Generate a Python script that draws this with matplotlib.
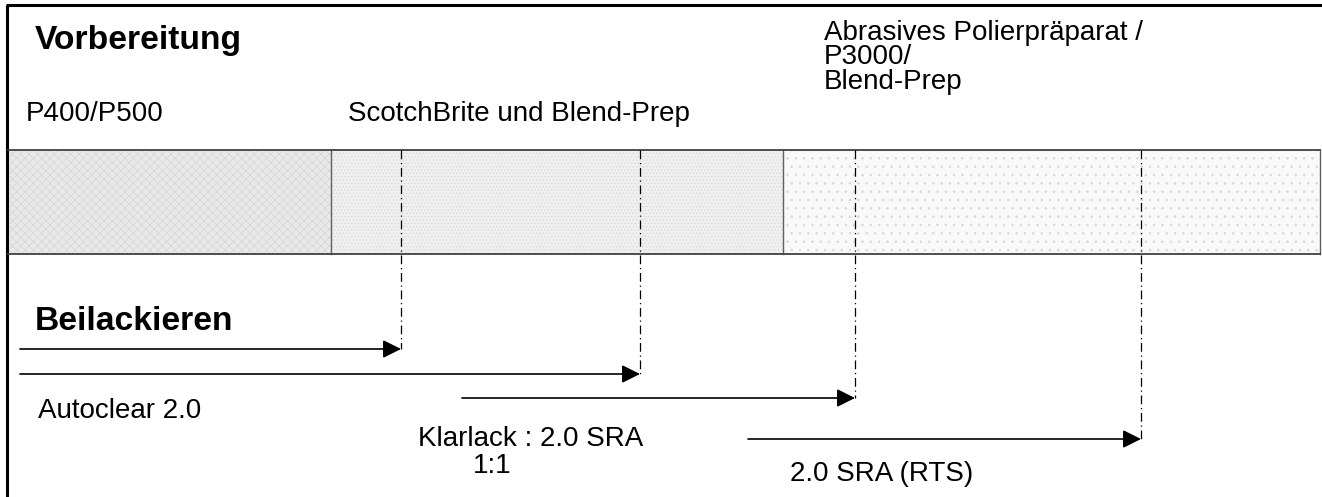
import matplotlib
matplotlib.use("Agg")
import matplotlib.pyplot as plt
from matplotlib.patches import Rectangle

plt.rcParams['font.family'] = ['Liberation Sans', 'DejaVu Sans']

# Data (pixel-space layout of the process diagram)
segment_edges = [8, 331, 783, 1320]
segment_labels = ["P400/P500", "ScotchBrite und Blend-Prep",
                  "Abrasives Polierpräparat /\nP3000/\nBlend-Prep"]
segment_faces = ['#e9e9e9', '#f0f0f0', '#f9f9f9']
segment_hatches = ['xxxx', '.....', '..']
arrow_starts = [20, 20, 462, 748]
arrow_ends = [401, 640, 855, 1141]
arrow_y = [349, 374, 398, 439]
arrow_labels = ["Autoclear 2.0", "Klarlack : 2.0 SRA\n1:1", "2.0 SRA (RTS)"]

W, H = 1322, 497
fig = plt.figure(figsize=(W / 100, H / 100), dpi=100)
ax = fig.add_axes([0, 0, 1, 1])
ax.set_xlim(0, W)
ax.set_ylim(H, 0)
ax.axis('off')

bar_top, bar_bot = 150, 254
FS = 20
FSB = 24.2

# Frame: left and top border
ax.plot([7, 7], [5, H], color='black', lw=2.2, solid_capstyle='butt')
ax.plot([6, W], [5, 5], color='black', lw=2.2, solid_capstyle='butt')

# Segments
plt.rcParams['hatch.linewidth'] = 0.6
for i in range(3):
    x0, x1 = segment_edges[i], segment_edges[i + 1]
    ax.add_patch(Rectangle((x0, bar_top), x1 - x0, bar_bot - bar_top,
                           facecolor=segment_faces[i], edgecolor='#d8d8d8',
                           hatch=segment_hatches[i], lw=0, zorder=1))
for x in segment_edges[1:]:
    ax.plot([x, x], [bar_top, bar_bot], color='#606060', lw=1.0, zorder=3)
ax.plot([segment_edges[0], segment_edges[-1]], [bar_top, bar_top], color='#404040', lw=1.3, zorder=3)
ax.plot([segment_edges[0], segment_edges[-1]], [bar_bot, bar_bot], color='#404040', lw=1.3, zorder=3)

# Headers
ax.text(35, 41, "Vorbereitung", fontsize=FSB, fontweight='bold', va='center', ha='left')
ax.text(35, 321, "Beilackieren", fontsize=FSB, fontweight='bold', va='center', ha='left')

# Segment labels
ax.text(26, 114, segment_labels[0], fontsize=FS, va='center', ha='left')
ax.text(348, 114, segment_labels[1], fontsize=FS, va='center', ha='left')
for k, line in enumerate(segment_labels[2].split('\n')):
    ax.text(824, 33 + 24.5 * k, line, fontsize=FS, va='center', ha='left')

# Dash-dot guides and arrows
for xs, xe, y in zip(arrow_starts, arrow_ends, arrow_y):
    ax.plot([xe, xe], [bar_top, y], color='black', lw=0.9,
            linestyle=(0, (7, 3, 1, 3)), zorder=4)
    ax.annotate('', xy=(xe, y), xytext=(xs, y),
                arrowprops=dict(arrowstyle='-|>,head_length=1.1,head_width=0.55',
                                color='black', lw=1.2, shrinkA=0, shrinkB=0),
                zorder=5)

# Arrow labels
ax.text(38, 411, arrow_labels[0], fontsize=FS, va='center', ha='left')
kl1, kl2 = arrow_labels[1].split('\n')
ax.text(418, 439, kl1, fontsize=FS, va='center', ha='left')
ax.text(492, 466, kl2, fontsize=FS, va='center', ha='center')
ax.text(790, 474, arrow_labels[2], fontsize=FS, va='center', ha='left')

fig.savefig('out.png', dpi=100)
